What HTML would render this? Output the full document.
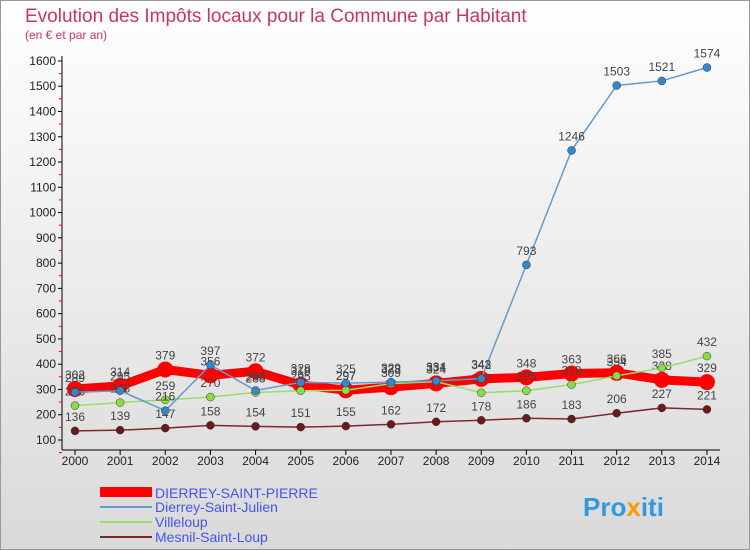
<!DOCTYPE html>
<html><head><meta charset="utf-8"><style>
body{margin:0;}
#c{width:750px;height:550px;position:relative;overflow:hidden;background:linear-gradient(#ffffff,#d9d9d9);font-family:"Liberation Sans",sans-serif;}
</style></head><body>
<div id="c">
<svg id="s" width="750" height="550" xmlns="http://www.w3.org/2000/svg" font-family="Liberation Sans, sans-serif">
<rect x="0.5" y="0.5" width="749" height="549" fill="none" stroke="#999"/>
<text x="25" y="22" font-size="19" fill="#cc3366">Evolution des Impôts locaux pour la Commune par Habitant</text>
<text x="25" y="39" font-size="12" fill="#cc3366">(en € et par an)</text>
<g id="axes"></g><g id="series"></g>
<g>
<rect x="100" y="487" width="52" height="10" fill="#ff0000"/>
<text x="155" y="498" font-size="14" fill="#4455ee">DIERREY-SAINT-PIERRE</text>
<line x1="100" y1="507" x2="152" y2="507" stroke="#6699cc" stroke-width="2"/>
<text x="155" y="512" font-size="14" fill="#4455ee">Dierrey-Saint-Julien</text>
<line x1="100" y1="522" x2="152" y2="522" stroke="#99dd66" stroke-width="2"/>
<text x="155" y="527" font-size="14" fill="#4455ee">Villeloup</text>
<line x1="100" y1="537" x2="152" y2="537" stroke="#7a2a2a" stroke-width="2"/>
<text x="155" y="542" font-size="14" fill="#4455ee">Mesnil-Saint-Loup</text>
</g>
<text x="583" y="516" font-size="26" font-weight="bold" fill="#3399dd">Pro<tspan fill="#ff9900">x</tspan>iti</text>
</svg>
</div>
<script>
const years=[2000,2001,2002,2003,2004,2005,2006,2007,2008,2009,2010,2011,2012,2013,2014];
const yTicks=[100,200,300,400,500,600,700,800,900,1000,1100,1200,1300,1400,1500,1600];
const redVals=[302,314,379,356,372,318,297,309,324,342,348,363,366,338,329];
const blueVals=[289,295,216,397,296,328,325,329,334,343,793,1246,1503,1521,1574];
const greenVals=[236,248,259,270,288,295,297,323,331,287,295,319,354,385,432];
const brownVals=[136,139,147,158,154,151,155,162,172,178,186,183,206,227,221];
const NS="http://www.w3.org/2000/svg";
const X0=75,DX=45.14,Y100=440,PX=0.2527;
function xS(i){return X0+i*DX;}
function yS(v){return Y100-(v-100)*PX;}
function mk(t,a,p){const e=document.createElementNS(NS,t);for(const k in a)e.setAttribute(k,a[k]);p.appendChild(e);return e;}
const ax=document.getElementById('axes');
let l=mk('line',{x1:62,y1:yS(100)+10,x2:62,y2:yS(1600)-5,stroke:'#000'},ax);


l=mk('line',{x1:62,y1:450,x2:720,y2:450,stroke:'#000'},ax);


yTicks.forEach(v=>{
 const y=yS(v);
 mk('line',{x1:58,y1:y,x2:62,y2:y,stroke:'#000'},ax);
 mk('line',{x1:59,y1:y+12.6,x2:62,y2:y+12.6,stroke:'#ff0000'},ax);
 const t=mk('text',{x:56,y:y+4,'font-size':12,'text-anchor':'end',fill:'#222'},ax);t.textContent=v;
 
 
});
years.forEach((yr,i)=>{
 mk('line',{x1:xS(i),y1:450,x2:xS(i),y2:455,stroke:'#000'},ax);
 const t=mk('text',{x:xS(i),y:465,'font-size':12,'text-anchor':'middle',fill:'#222'},ax);t.textContent=yr;
 
 
});
const sg=document.getElementById('series');
function series(vals,color,w,r,name,mcol){
 const g=mk('g',{},sg);
 
 
 const pl=mk('polyline',{points:vals.map((v,i)=>xS(i)+','+yS(v)).join(' '),fill:'none',stroke:color,'stroke-width':w,'stroke-linejoin':'round'},g);
 
 
 vals.forEach((v,i)=>{
  const c=mk('circle',{cx:xS(i),cy:yS(v),r:r,fill:mcol,stroke:'#333','stroke-width':r>6?0:0.5},g);
  
  
  const t=mk('text',{x:xS(i),y:yS(v)-10,'font-size':12,'text-anchor':'middle',fill:'#444'},g);t.textContent=v;
  
  
 });
}
series(brownVals,'#7a2a2a',1.5,4,'mesnil-saint-loup','#6b1a1a');
series(redVals,'#ff0000',9,8,'dierrey-saint-pierre','#ff0000');
series(greenVals,'#99dd66',1.5,4,'villeloup','#88dd44');
series(blueVals,'#6699cc',1.5,4,'dierrey-saint-julien','#3388cc');
</script>
</body></html>
